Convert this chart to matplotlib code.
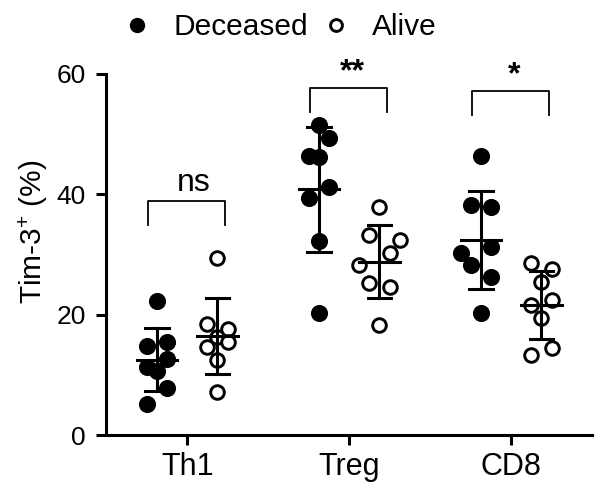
import numpy as np
import matplotlib
matplotlib.use("Agg")
import matplotlib.pyplot as plt
from matplotlib.lines import Line2D

plt.rcParams['font.family'] = ['Liberation Sans', 'DejaVu Sans']
plt.rcParams['mathtext.fontset'] = 'custom'
plt.rcParams['mathtext.rm'] = 'Liberation Sans'
plt.rcParams['mathtext.it'] = 'Liberation Sans:italic'
plt.rcParams['mathtext.bf'] = 'Liberation Sans:bold'

cells = ["Th1", "Treg", "CD8"]
deceased = [
    [22.3, 14.8, 15.5, 12.6, 11.3, 10.6, 7.9, 5.1],
    [51.5, 49.3, 46.3, 46.2, 41.2, 39.3, 32.3, 20.2],
    [46.3, 38.2, 37.8, 30.3, 31.3, 28.2, 26.3, 20.3],
]
alive = [
    [29.4, 18.4, 17.6, 16.3, 14.7, 15.5, 12.5, 7.2],
    [37.8, 33.3, 32.4, 30.3, 28.2, 25.3, 24.6, 18.3],
    [28.5, 27.5, 25.5, 21.6, 22.4, 19.4, 14.4, 13.3],
]
# jitter steps (scatter spread of points within a column)
jit_dec = [
    [0, -1, 1, 1, -1, 0, 1, -1],
    [0, 1, -1, 0, 1, -1, 0, 0],
    [0, -1, 1, -2, 1, -1, 1, 0],
]
jit_alive = [
    [0, -1, 1, 0, -1, 1, 0, 0],
    [0, -1, 2, 1, -2, -1, 1, 0],
    [-1, 1, 0, -1, 1, 0, 1, -1],
]
signif = ["ns", "**", "*"]
bracket_top = [38.9, 57.6, 57.1]

fig = plt.figure(figsize=(6, 4.95), dpi=100)
ax = fig.add_axes([0.177, 0.121, 0.81, 0.73])

off = 0.186
jw = 0.063
lw = 2.2

for i in range(len(cells)):
    for vals, jit, sign, filled in [(deceased[i], jit_dec[i], -1, True),
                                    (alive[i], jit_alive[i], 1, False)]:
        xc = i + sign * off
        xs = xc + np.array(jit) * jw
        if filled:
            ax.plot(xs, vals, 'o', ms=11.3, color='black', zorder=3)
        else:
            ax.plot(xs, vals, 'o', ms=9.8, mfc='white', mec='black', mew=2.1, zorder=3)
        m = np.mean(vals)
        sd = np.std(vals, ddof=1)
        ax.plot([xc, xc], [m - sd, m + sd], color='black', lw=lw, zorder=4)
        ax.plot([xc - 0.125, xc + 0.125], [m, m], color='black', lw=lw, zorder=4)
        ax.plot([xc - 0.072, xc + 0.072], [m + sd, m + sd], color='black', lw=lw, zorder=4)
        ax.plot([xc - 0.072, xc + 0.072], [m - sd, m - sd], color='black', lw=lw, zorder=4)

    # significance bracket
    top = bracket_top[i]
    ax.plot([i - 0.24, i - 0.24, i + 0.235, i + 0.235], [top - 4.0, top, top, top - 4.0],
            color='black', lw=1.3, clip_on=False)
    if signif[i] == "ns":
        ax.text(i + 0.04, top + 0.5, signif[i], ha='center', va='bottom', fontsize=23)
    else:
        ax.text(i + 0.02, top + 0.1, signif[i], ha='center', va='bottom', fontsize=23,
                fontweight='bold')

ax.set_xlim(-0.5, 2.5)
ax.set_ylim(0, 60)
ax.set_yticks([0, 20, 40, 60])
ax.set_xticks(range(len(cells)))
ax.set_xticklabels(cells)
ax.set_ylabel("Tim-3$^{+}$ (%)", fontsize=21.5)
ax.yaxis.set_label_coords(-0.115, 0.564)
ax.spines['top'].set_visible(False)
ax.spines['right'].set_visible(False)
for s in ['left', 'bottom']:
    ax.spines[s].set_linewidth(2.2)
ax.tick_params(axis='both', width=2.2, length=7.5, labelsize=19, pad=7)
ax.tick_params(axis='x', labelsize=22, pad=5)

handles = [
    Line2D([], [], marker='o', ls='none', ms=10, color='black'),
    Line2D([], [], marker='o', ls='none', ms=8.5, mfc='white', mec='black', mew=2.1),
]
fig.legend(handles, ["Deceased", "Alive"], loc='upper center', bbox_to_anchor=(0.46, 1.028),
           ncol=2, frameon=False, fontsize=21.5, handletextpad=0.45, columnspacing=0.2,
           handlelength=1.5)

fig.savefig("out.png", dpi=100)
